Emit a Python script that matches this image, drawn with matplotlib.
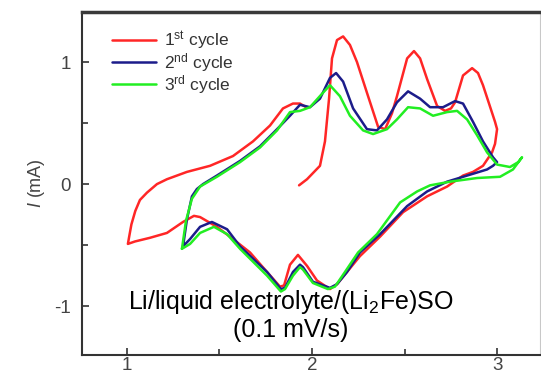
import matplotlib
matplotlib.use("Agg")
import matplotlib.pyplot as plt

plt.rcParams['font.family'] = ['Liberation Sans', 'DejaVu Sans']
plt.rcParams['mathtext.fontset'] = 'custom'
plt.rcParams['mathtext.rm'] = 'Liberation Sans'
plt.rcParams['mathtext.it'] = 'Liberation Sans:italic'
plt.rcParams['axes.unicode_minus'] = False

# ---- data (potential V, current mA) ----
v1 = [1.930, 1.973, 2.043, 2.070, 2.092, 2.108, 2.135, 2.168, 2.205, 2.243, 2.303, 2.357,
      2.395, 2.432, 2.459, 2.514, 2.551, 2.584, 2.622, 2.676, 2.719, 2.751, 2.773, 2.816,
      2.865, 2.897, 2.924, 2.989, 3.000, 2.989, 2.973, 2.924, 2.870, 2.816, 2.730, 2.622,
      2.492, 2.368, 2.259, 2.189, 2.135, 2.097, 2.027, 1.973, 1.924, 1.881, 1.849, 1.827,
      1.757, 1.665, 1.573, 1.486, 1.395, 1.362, 1.303, 1.216, 1.124, 1.043, 1.005, 1.012,
      1.024, 1.045, 1.070, 1.108, 1.162, 1.216, 1.324, 1.449, 1.573, 1.681, 1.773, 1.843,
      1.897, 1.935, 1.968]
i1 = [-0.01, 0.04, 0.15, 0.35, 0.70, 1.03, 1.18, 1.21, 1.14, 1.00, 0.72, 0.47,
      0.45, 0.58, 0.72, 1.03, 1.09, 1.03, 0.86, 0.64, 0.60, 0.62, 0.67, 0.89,
      0.95, 0.91, 0.81, 0.51, 0.45, 0.33, 0.26, 0.15, 0.10, 0.07, -0.02, -0.10,
      -0.23, -0.43, -0.59, -0.72, -0.82, -0.86, -0.79, -0.67, -0.58, -0.66, -0.83, -0.84,
      -0.72, -0.56, -0.45, -0.35, -0.27, -0.26, -0.31, -0.40, -0.44, -0.47, -0.49, -0.43,
      -0.33, -0.22, -0.13, -0.07, 0.00, 0.04, 0.10, 0.15, 0.23, 0.35, 0.48, 0.62,
      0.66, 0.66, 0.63]

v2 = [1.303, 1.324, 1.351, 1.378, 1.411, 1.486, 1.611, 1.719, 1.811, 1.881, 1.935, 1.989,
      2.043, 2.097, 2.130, 2.168, 2.222, 2.297, 2.351, 2.405, 2.459, 2.519, 2.584, 2.638,
      2.708, 2.773, 2.816, 2.870, 2.924, 2.978, 3.000, 2.978, 2.946, 2.838, 2.730, 2.622,
      2.514, 2.368, 2.259, 2.189, 2.135, 2.097, 2.005, 1.951, 1.935, 1.897, 1.854, 1.832,
      1.757, 1.611, 1.541, 1.459, 1.395, 1.341, 1.303]
i2 = [-0.51, -0.29, -0.10, -0.04, 0.00, 0.07, 0.19, 0.31, 0.45, 0.56, 0.65, 0.63,
      0.70, 0.87, 0.91, 0.84, 0.62, 0.45, 0.44, 0.53, 0.67, 0.76, 0.70, 0.63,
      0.63, 0.68, 0.66, 0.51, 0.35, 0.22, 0.18, 0.15, 0.12, 0.07, 0.02, -0.06,
      -0.18, -0.41, -0.56, -0.72, -0.82, -0.85, -0.80, -0.68, -0.66, -0.72, -0.85, -0.86,
      -0.72, -0.51, -0.37, -0.31, -0.35, -0.45, -0.51]

v3 = [1.297, 1.319, 1.351, 1.395, 1.486, 1.611, 1.719, 1.811, 1.881, 1.935, 1.989, 2.054,
      2.097, 2.151, 2.205, 2.276, 2.330, 2.405, 2.459, 2.519, 2.584, 2.654, 2.730, 2.784,
      2.838, 2.892, 2.946, 3.000, 3.070, 3.114, 3.135, 3.086, 3.016, 2.892, 2.746, 2.638,
      2.568, 2.476, 2.351, 2.249, 2.178, 2.124, 2.086, 2.005, 1.951, 1.935, 1.897, 1.854,
      1.832, 1.757, 1.611, 1.541, 1.470, 1.395, 1.341, 1.297]
i3 = [-0.53, -0.30, -0.12, -0.02, 0.06, 0.18, 0.30, 0.44, 0.59, 0.60, 0.63, 0.74,
      0.81, 0.72, 0.56, 0.44, 0.41, 0.45, 0.53, 0.63, 0.62, 0.56, 0.59, 0.60,
      0.53, 0.40, 0.26, 0.16, 0.14, 0.18, 0.22, 0.12, 0.06, 0.05, 0.02, -0.01,
      -0.06, -0.15, -0.41, -0.56, -0.72, -0.84, -0.86, -0.81, -0.70, -0.68, -0.75, -0.86,
      -0.88, -0.75, -0.53, -0.41, -0.35, -0.40, -0.49, -0.53]

labels = ['1$^{\\mathrm{st}}$ cycle', '2$^{\\mathrm{nd}}$ cycle', '3$^{\\mathrm{rd}}$ cycle']
colors = ['#ff2626', '#1c1c8a', '#22ee22']
xticks = [1, 2, 3]
yticks = [-1, 0, 1]

fig = plt.figure(figsize=(5.41, 3.76), dpi=100)
ax = fig.add_axes([82 / 541, 1 - 355 / 376, 458 / 541, 343 / 376])

for v, i, c, lab in zip([v1, v2, v3], [i1, i2, i3], colors, labels):
    ax.plot(v, i, color=c, lw=1.8, label=lab, solid_joinstyle='round', solid_capstyle='round')

ax.set_xlim(0.757, 3.232)
ax.set_ylim(-1.40, 1.41)
ax.set_xticks(xticks)
ax.set_yticks(yticks)
ax.set_xticks([1.5, 2.5], minor=True)
ax.set_yticks([-0.5, 0.5], minor=True)
ax.tick_params(which='both', direction='in', top=False, right=False,
               labelsize=13.5, labelcolor='#444444', color='#333333', width=1.2)
ax.tick_params(which='major', length=5)
ax.tick_params(which='minor', length=4)
ax.tick_params(axis='x', pad=1.5)
ax.tick_params(axis='y', pad=8)

for s in ['left', 'bottom']:
    ax.spines[s].set_linewidth(1.5)
    ax.spines[s].set_color('#333333')
ax.spines['top'].set_linewidth(2.5)
ax.spines['top'].set_color('#3a3a3a')
ax.spines['right'].set_linewidth(0.8)
ax.spines['right'].set_color('#c8c8c8')

ax.set_ylabel('$\\mathit{I}$ (mA)', fontsize=13, color='#444444', labelpad=5)

leg = ax.legend(loc='upper left', bbox_to_anchor=(0.04, 0.985), frameon=False,
                fontsize=12.5, handlelength=2.5, handletextpad=0.45, labelspacing=-0.05,
                borderaxespad=0.3)
for t in leg.get_texts():
    t.set_color('#333333')

ax.text(1.886, -1.07, 'Li/liquid electrolyte/(Li$_2$Fe)SO\n(0.1 mV/s)',
        ha='center', va='center', fontsize=18, color='black', linespacing=1.1)

fig.savefig('out.png', dpi=100)
